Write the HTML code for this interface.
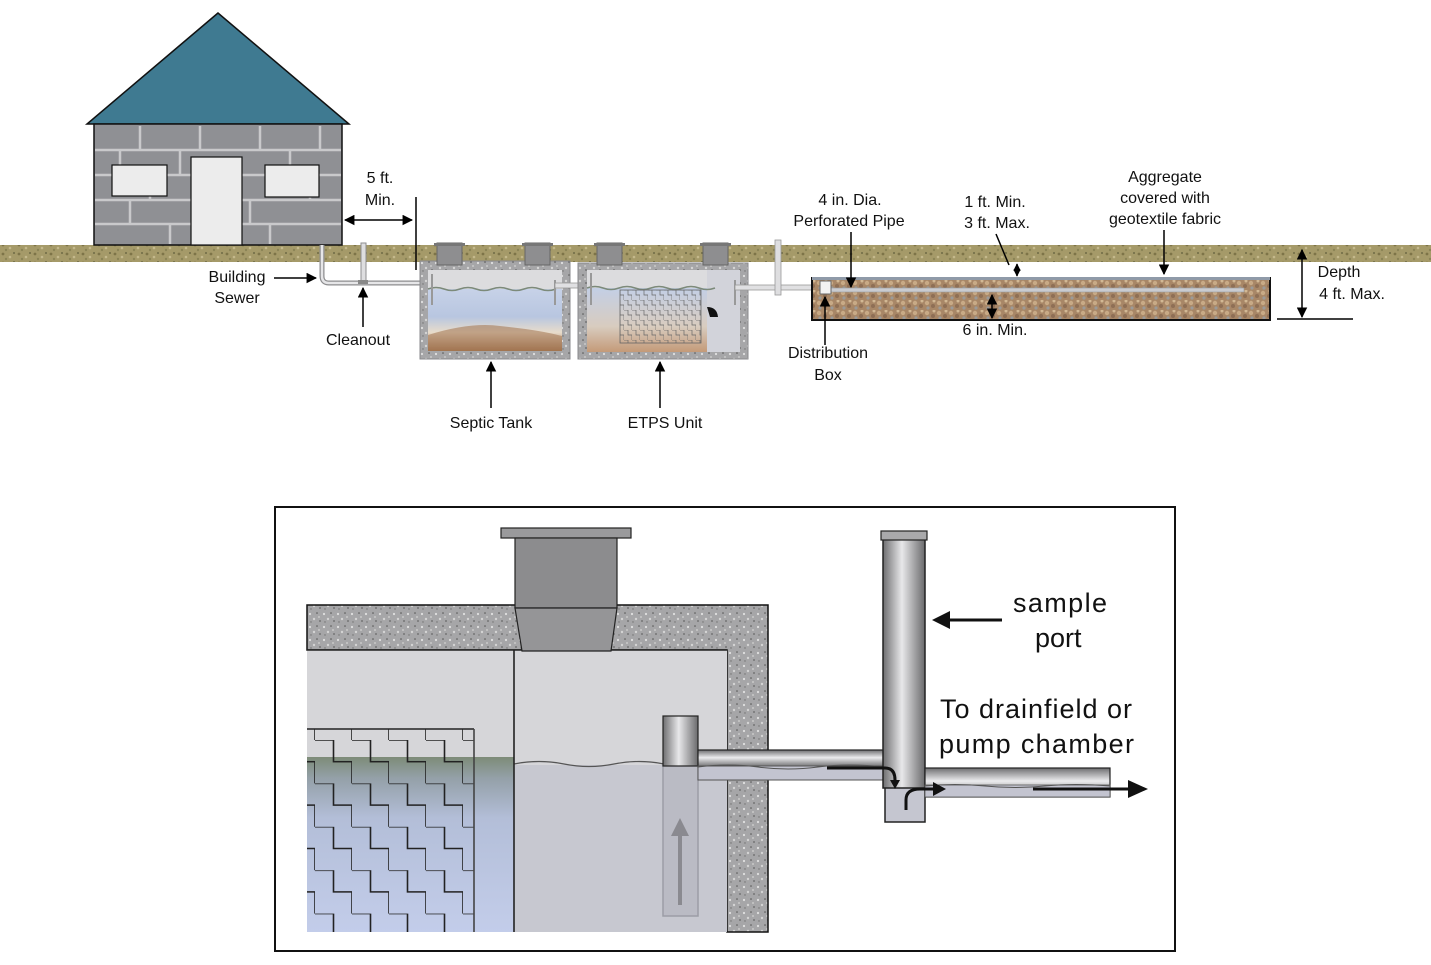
<!DOCTYPE html>
<html><head><meta charset="utf-8"><style>
html,body{margin:0;padding:0;background:#fff;}
svg{display:block;font-family:"Liberation Sans",Arial,sans-serif;}
</style></head><body>
<svg width="1431" height="965" viewBox="0 0 1431 965" xmlns="http://www.w3.org/2000/svg">
<defs>
<pattern id="speck" width="14" height="13" patternUnits="userSpaceOnUse">
<rect width="14" height="13" fill="#a6a6a8"/>
<circle cx="2" cy="3" r="1.1" fill="#e0e0e0"/><circle cx="9" cy="2" r="0.8" fill="#555"/>
<circle cx="6" cy="8" r="1.2" fill="#d4d4d4"/><circle cx="12" cy="10" r="0.9" fill="#666"/>
<circle cx="3" cy="11" r="0.7" fill="#707070"/><circle cx="11" cy="6" r="1" fill="#c8c8c8"/>
</pattern>
<pattern id="ground" width="16" height="9" patternUnits="userSpaceOnUse">
<rect width="16" height="9" fill="#a59a69"/>
<circle cx="3" cy="2" r="1.4" fill="#7d7448"/><circle cx="10" cy="5" r="1.3" fill="#c4b98c"/>
<circle cx="14" cy="1" r="1" fill="#6f6a45"/><circle cx="6" cy="7" r="1.2" fill="#8b8456"/>
</pattern>
<pattern id="grav" width="12" height="10" patternUnits="userSpaceOnUse">
<rect width="12" height="10" fill="#a88767"/>
<circle cx="3" cy="3" r="2.2" fill="#c8aa86"/><circle cx="9" cy="6" r="2" fill="#8e6f55"/>
<circle cx="4" cy="8" r="1.6" fill="#9b9a98"/><circle cx="10" cy="1" r="1.5" fill="#d2b894"/>
</pattern>
<linearGradient id="tank1" x1="0" y1="0" x2="0" y2="1">
<stop offset="0" stop-color="#c7d2e8"/><stop offset="0.45" stop-color="#b8c6e0"/><stop offset="0.7" stop-color="#e8dccb"/><stop offset="1" stop-color="#9a6a45"/></linearGradient>
<linearGradient id="tank2" x1="0" y1="0" x2="0" y2="1">
<stop offset="0" stop-color="#c3cfe6"/><stop offset="0.6" stop-color="#d8ccbf"/><stop offset="1" stop-color="#c49a78"/></linearGradient>
<linearGradient id="liq" x1="0" y1="0" x2="0" y2="1">
<stop offset="0" stop-color="#7d8b78"/><stop offset="0.12" stop-color="#94a0a8"/><stop offset="0.35" stop-color="#b3bed8"/><stop offset="1" stop-color="#c3cdea"/></linearGradient>
<linearGradient id="pipeV" x1="0" y1="0" x2="1" y2="0">
<stop offset="0" stop-color="#6e6e70"/><stop offset="0.45" stop-color="#e8e8ea"/><stop offset="1" stop-color="#6a6a6c"/></linearGradient>
<linearGradient id="pipeH" x1="0" y1="0" x2="0" y2="1">
<stop offset="0" stop-color="#6e6e70"/><stop offset="0.45" stop-color="#ececee"/><stop offset="1" stop-color="#6a6a6c"/></linearGradient>
<pattern id="zz" width="37" height="43.4" patternUnits="userSpaceOnUse" x="315" y="740">
<path d="M0 0 H18.5 V21.7 H37 V43.4" fill="none" stroke="#222" stroke-width="1.6"/>
</pattern>
<pattern id="zzs" width="8" height="10" patternUnits="userSpaceOnUse">
<path d="M0 0 H4 V5 H8 V10" fill="none" stroke="#666" stroke-width="0.7"/>
</pattern>
<marker id="ah" viewBox="0 0 10 10" refX="9" refY="5" markerWidth="7" markerHeight="7" orient="auto-start-reverse"><path d="M0 0 L10 5 L0 10z" fill="#000"/></marker>
<marker id="ahb" viewBox="0 0 10 10" refX="9" refY="5" markerWidth="5" markerHeight="5" orient="auto-start-reverse"><path d="M0 0 L10 5 L0 10z" fill="#000"/></marker>
</defs>

<!-- ===== TOP DIAGRAM ===== -->
<rect x="0" y="245" width="1431" height="17" fill="url(#ground)"/>
<polygon points="218,13 87,124 349,124" fill="#3f7a91" stroke="#111" stroke-width="1.5"/>
<rect x="94" y="124" width="248" height="121" fill="#8f9094" stroke="#111" stroke-width="1.5"/>
<g stroke="#c9c9cb" stroke-width="2.5" fill="none">
<path d="M95 150H341M95 175H341M95 200H341M95 224H341"/>
<path d="M140 126V150M200 126V150M260 126V150M320 126V150M120 151V175M180 151V175M290 151V175M150 176V200M250 200V224M130 200V224M310 176V200M170 224V244M270 224V244"/>
</g>
<rect x="112" y="165" width="55" height="31" fill="#ececec" stroke="#111" stroke-width="1.2"/>
<rect x="265" y="165" width="54" height="32" fill="#ececec" stroke="#111" stroke-width="1.2"/>
<rect x="191" y="157" width="51" height="88" fill="#ececec" stroke="#111" stroke-width="1.2"/>

<path d="M322 245 V276 Q322 283 329 283 H432" fill="none" stroke="#8d8d8f" stroke-width="5"/>
<path d="M322 245 V276 Q322 283 329 283 H432" fill="none" stroke="#e6e6e8" stroke-width="2.5"/>
<rect x="361" y="243" width="5" height="40" fill="#dedee0" stroke="#8d8d8f" stroke-width="1"/>
<rect x="358" y="280" width="10" height="4" fill="#888"/>

<line x1="416" y1="197" x2="416" y2="270" stroke="#000" stroke-width="1.5"/>
<line x1="345" y1="220" x2="412" y2="220" stroke="#000" stroke-width="1.5" marker-start="url(#ah)" marker-end="url(#ah)"/>

<!-- septic tank -->
<rect x="420" y="261" width="150" height="98" fill="url(#speck)" stroke="#8a8a8c"/>
<rect x="428" y="270" width="134" height="81" fill="#dcdcde"/>
<rect x="428" y="289" width="134" height="62" fill="url(#tank1)"/>
<path d="M428 289 q8 -3 16 0 t16 0 t16 0 t16 0 t16 0 t16 0 t16 0 t16 0" fill="none" stroke="#7c8a7a" stroke-width="1.5"/>
<path d="M428 335 Q470 322 500 326 Q540 330 562 336 V351 H428Z" fill="#a67b58" opacity="0.6"/>
<rect x="437" y="243" width="25" height="22" fill="#8e8e90" stroke="#666"/>
<rect x="434" y="243" width="31" height="3" fill="#777"/>
<rect x="525" y="243" width="25" height="22" fill="#8e8e90" stroke="#666"/>
<rect x="522" y="243" width="31" height="3" fill="#777"/>
<line x1="432" y1="274" x2="432" y2="305" stroke="#999" stroke-width="2"/>
<line x1="555" y1="280" x2="555" y2="305" stroke="#999" stroke-width="2"/>
<rect x="555" y="283" width="33" height="5" fill="#e0e0e2" stroke="#999" stroke-width="0.8"/>

<!-- ETPS -->
<rect x="578" y="263" width="170" height="96" fill="url(#speck)" stroke="#8a8a8c"/>
<rect x="587" y="270" width="153" height="82" fill="#dcdcde"/>
<rect x="587" y="288" width="120" height="64" fill="url(#tank2)"/>
<rect x="707" y="270" width="33" height="82" fill="#d2d3da"/>
<path d="M587 288 q8 -3 16 0 t16 0 t16 0 t16 0 t16 0 t16 0 t16 0 t16 0" fill="none" stroke="#7c8a7a" stroke-width="1.5"/>
<rect x="620" y="290" width="81" height="53" fill="url(#zzs)" stroke="#666" stroke-width="0.8"/>
<path d="M707 307 Q717 307 718 317 H710 Z" fill="#111"/>
<rect x="597" y="243" width="25" height="22" fill="#8e8e90" stroke="#666"/>
<rect x="594" y="243" width="31" height="3" fill="#777"/>
<rect x="703" y="243" width="25" height="22" fill="#8e8e90" stroke="#666"/>
<rect x="700" y="243" width="31" height="3" fill="#777"/>
<line x1="591" y1="273" x2="591" y2="305" stroke="#999" stroke-width="2"/>
<line x1="735" y1="280" x2="735" y2="305" stroke="#999" stroke-width="2"/>
<rect x="735" y="285" width="85" height="5" fill="#e0e0e2" stroke="#999" stroke-width="0.8"/>
<rect x="775" y="240" width="6" height="55" fill="#dedee0" stroke="#999" stroke-width="0.8"/>

<!-- drainfield -->
<rect x="812" y="278" width="458" height="42" fill="url(#grav)" stroke="#111" stroke-width="2"/>
<rect x="812" y="277" width="458" height="3" fill="#8f9aa8"/>
<rect x="826" y="288" width="418" height="4" fill="#c9cbd0" stroke="#999" stroke-width="0.6"/>
<rect x="820" y="281" width="11" height="13" fill="#f2f2f2" stroke="#666"/>

<g font-size="16" fill="#111" text-anchor="middle">
<text x="380" y="183">5 ft.</text><text x="380" y="205">Min.</text>
<text x="237" y="282">Building</text><text x="237" y="303">Sewer</text>
<text x="358" y="345">Cleanout</text>
<text x="491" y="428">Septic Tank</text>
<text x="665" y="428">ETPS Unit</text>
<text x="850" y="205">4 in. Dia.</text><text x="849" y="226">Perforated Pipe</text>
<text x="995" y="207">1 ft. Min.</text><text x="997" y="228">3 ft. Max.</text>
<text x="1165" y="182">Aggregate</text><text x="1165" y="203">covered with</text><text x="1165" y="224">geotextile fabric</text>
<text x="828" y="358">Distribution</text><text x="828" y="380">Box</text>
<text x="995" y="335">6 in. Min.</text>
<text x="1339" y="277">Depth</text><text x="1352" y="299">4 ft. Max.</text>
</g>
<g stroke="#000" stroke-width="1.5" fill="none">
<line x1="274" y1="278" x2="316" y2="278" marker-end="url(#ah)"/>
<line x1="363" y1="327" x2="363" y2="288" marker-end="url(#ah)"/>
<line x1="491" y1="408" x2="491" y2="362" marker-end="url(#ah)"/>
<line x1="660" y1="408" x2="660" y2="362" marker-end="url(#ah)"/>
<line x1="851" y1="232" x2="851" y2="287" marker-end="url(#ah)"/>
<line x1="996" y1="234" x2="1009" y2="265"/>
<line x1="1017" y1="264" x2="1017" y2="276" marker-start="url(#ahb)" marker-end="url(#ahb)"/>
<line x1="1164" y1="230" x2="1164" y2="274" marker-end="url(#ah)"/>
<line x1="825" y1="345" x2="825" y2="297" marker-end="url(#ah)"/>
<line x1="992" y1="295" x2="992" y2="318" marker-start="url(#ah)" marker-end="url(#ah)"/>
<line x1="1302" y1="250" x2="1302" y2="317" marker-start="url(#ah)" marker-end="url(#ah)"/>
<line x1="1277" y1="319" x2="1353" y2="319"/>
</g>

<!-- ===== BOTTOM DETAIL ===== -->
<rect x="275" y="507" width="900" height="444" fill="#fff" stroke="#111" stroke-width="2"/>
<path d="M307 605 H768 V932 H727 V650 H307 Z" fill="url(#speck)" stroke="#111" stroke-width="1.5"/>
<rect x="307" y="650" width="420" height="282" fill="#d6d6d9"/>
<rect x="514" y="765" width="213" height="167" fill="#c7c8d0"/>
<rect x="307" y="757" width="207" height="175" fill="url(#liq)"/>
<rect x="307" y="729" width="167" height="203" fill="url(#zz)"/>
<line x1="307" y1="729" x2="474" y2="729" stroke="#222" stroke-width="1.6"/>
<line x1="474" y1="729" x2="474" y2="932" stroke="#444" stroke-width="1.6"/>
<path d="M514 764 q25 -5 50 0 t50 0 t50 0 t49 0" fill="none" stroke="#555" stroke-width="1.2"/>
<line x1="514" y1="650" x2="514" y2="932" stroke="#222" stroke-width="1.6"/>
<line x1="307" y1="650" x2="727" y2="650" stroke="#222" stroke-width="1.5"/>
<rect x="501" y="528" width="130" height="10" fill="#9a9a9c" stroke="#222" stroke-width="1.2"/>
<rect x="515" y="538" width="102" height="70" fill="#8c8c8e" stroke="#222" stroke-width="1.2"/>
<polygon points="515,608 617,608 611,651 522,651" fill="#959597" stroke="#222" stroke-width="1.2"/>
<rect x="663" y="765" width="35" height="151" fill="#babbc4" stroke="#9c9da6" stroke-width="1.5"/>
<path d="M680 905 V830" stroke="#8a8a90" stroke-width="4"/>
<polygon points="671,836 680,818 689,836" fill="#8a8a90"/>
<rect x="663" y="716" width="35" height="50" fill="url(#pipeV)" stroke="#222" stroke-width="1.2"/>
<rect x="698" y="750" width="187" height="17" fill="url(#pipeH)" stroke="#222" stroke-width="1.2"/>
<rect x="698" y="766" width="187" height="14" fill="#c3c4d0" stroke="#555" stroke-width="1"/>
<path d="M698 767 q30 -4 60 0 t60 0 t67 0" fill="none" stroke="#555" stroke-width="1"/>
<rect x="885" y="785" width="40" height="37" fill="#c5c6d0" stroke="#222" stroke-width="1.5"/>
<rect x="883" y="538" width="42" height="250" fill="url(#pipeV)" stroke="#222" stroke-width="1.5"/>
<rect x="881" y="531" width="46" height="9" fill="#a9a9ab" stroke="#222" stroke-width="1.2"/>
<rect x="925" y="768" width="185" height="29" fill="url(#pipeH)" stroke="#222" stroke-width="1.2"/>
<rect x="925" y="785" width="185" height="12" fill="#c3c4d0" stroke="#555" stroke-width="0.8"/>
<path d="M925 786 q30 -3 60 0 t60 0 t65 0" fill="none" stroke="#555" stroke-width="1"/>
<g stroke="#111" stroke-width="3" fill="none">
<path d="M827 768 H885 Q895 768 895 780"/>
<path d="M906 810 V800 Q906 789 920 789 H935"/>
<line x1="1033" y1="789" x2="1130" y2="789"/>
<line x1="1002" y1="620" x2="948" y2="620"/>
</g>
<polygon points="890,780 900,780 895,789" fill="#111"/>
<polygon points="933,782 946,789 933,796" fill="#111"/>
<polygon points="1128,780 1148,789 1128,798" fill="#111"/>
<polygon points="950,611 932,620 950,629" fill="#111"/>
<g font-size="27" fill="#111">
<text x="1013" y="612" textLength="94">sample</text>
<text x="1035" y="647">port</text>
<text x="940" y="718" textLength="192">To drainfield or</text>
<text x="939" y="753" textLength="195">pump chamber</text>
</g>
</svg>
</body></html>
